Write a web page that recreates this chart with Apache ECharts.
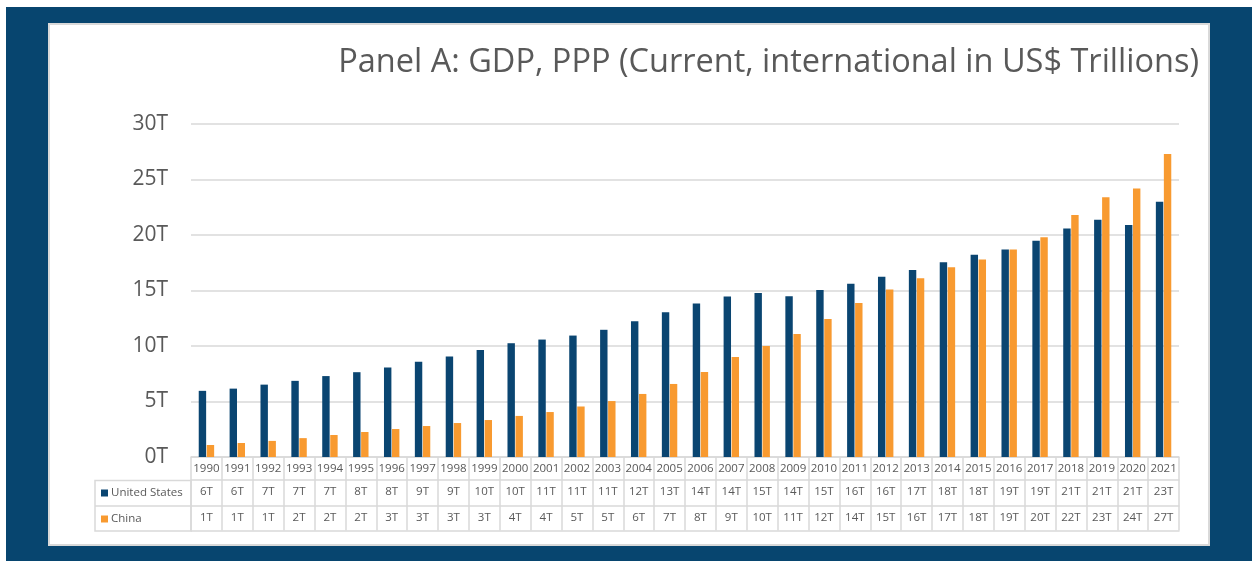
<!DOCTYPE html>
<html>
<head>
  <meta charset="utf-8">
  <script src="https://cdn.jsdelivr.net/npm/echarts@6/dist/echarts.min.js"></script>
  <style>
    body { margin: 0; background: #fff; }
  </style>
</head>
<body>
<div id="main" style="width:1252px;height:561px;"></div>
<script type="text/javascript">
var years = ['1990','1991','1992','1993','1994','1995','1996','1997','1998','1999',
  '2000','2001','2002','2003','2004','2005','2006','2007','2008','2009',
  '2010','2011','2012','2013','2014','2015','2016','2017','2018','2019','2020','2021'];

// GDP, PPP in trillions
var usGdp = [5.96, 6.16, 6.52, 6.86, 7.29, 7.64, 8.07, 8.58, 9.06, 9.63,
  10.25, 10.58, 10.94, 11.46, 12.22, 13.04, 13.82, 14.45, 14.77, 14.48,
  15.05, 15.6, 16.25, 16.84, 17.55, 18.21, 18.7, 19.48, 20.58, 21.38, 20.89, 23.0];
var chinaGdp = [1.08, 1.26, 1.45, 1.7, 1.98, 2.25, 2.52, 2.79, 3.06, 3.33,
  3.7, 4.05, 4.55, 5.04, 5.68, 6.58, 7.66, 9.0, 10.0, 11.08,
  12.43, 13.87, 15.1, 16.1, 17.1, 17.8, 18.7, 19.8, 21.8, 23.4, 24.2, 27.3];

// table rows as printed under the chart
var usLabels = ['6T','6T','7T','7T','7T','8T','8T','9T','9T','10T',
  '10T','11T','11T','11T','12T','13T','14T','14T','15T','14T',
  '15T','16T','16T','17T','18T','18T','19T','19T','21T','21T','21T','23T'];
var chinaLabels = ['1T','1T','1T','2T','2T','2T','3T','3T','3T','3T',
  '4T','4T','5T','5T','6T','7T','8T','9T','10T','11T',
  '12T','14T','15T','16T','17T','18T','19T','20T','22T','23T','24T','27T'];

var textColor = '#595959';
var lineColor = '#d9d9d9';
var navy = '#0a4571';
var orange = '#f89a30';
var font = 'Open Sans';

var myChart = echarts.init(document.getElementById('main'));

function tableAxis(labels, offset, tickLen, showLabel) {
  return {
    type: 'category',
    data: labels,
    position: 'bottom',
    offset: offset,
    gridIndex: 0,
    axisLine: { show: true, lineStyle: { color: lineColor, width: 1.5 } },
    axisTick: { show: tickLen > 0, interval: 0, length: tickLen, lineStyle: { color: lineColor, width: 1.5 } },
    axisLabel: { show: showLabel, interval: 0, margin: 6, fontSize: 11.5, color: textColor, fontFamily: font },
    splitLine: { show: false }
  };
}

myChart.setOption({
  backgroundColor: '#ffffff',
  animation: false,
  graphic: [
    { type: 'rect', z: -10, shape: { x: 6, y: 7, width: 1246, height: 554 }, style: { fill: '#07456f' } },
    { type: 'rect', z: -9, shape: { x: 49, y: 24, width: 1160, height: 521 }, style: { fill: '#ffffff', stroke: lineColor, lineWidth: 2 } },
    { type: 'rect', z: 5, shape: { x: 95, y: 480.5, width: 96, height: 50.5 }, style: { fill: 'none', stroke: lineColor, lineWidth: 1.5 } },
    { type: 'line', z: 5, shape: { x1: 95, y1: 506, x2: 191, y2: 506 }, style: { stroke: lineColor, lineWidth: 1.5 } }
  ],
  title: {
    text: 'Panel A: GDP, PPP (Current, international in US$ Trillions)',
    right: 53,
    top: 46,
    padding: 0,
    textStyle: { fontFamily: font, fontSize: 32.5, fontWeight: 'normal', color: textColor }
  },
  legend: {
    orient: 'vertical',
    left: 96,
    top: 481,
    itemWidth: 7,
    itemHeight: 7,
    itemGap: 12,
    icon: 'rect',
    textStyle: { fontFamily: font, fontSize: 11.5, color: textColor, lineHeight: 14, padding: [0, 0, 0, -2] },
    data: ['United States', 'China']
  },
  grid: { left: 191, right: 73, top: 124, bottom: 104, containLabel: false },
  yAxis: {
    type: 'value',
    min: 0,
    max: 30,
    interval: 5,
    axisLine: { show: false },
    axisTick: { show: false },
    axisLabel: { formatter: '{value}T', fontSize: 21, color: textColor, fontFamily: font, margin: 23 },
    splitLine: { lineStyle: { color: lineColor, width: 1.5 } }
  },
  xAxis: [
    tableAxis(years, 0, 23, true),
    tableAxis(usLabels, 23, 26, true),
    tableAxis(chinaLabels, 48.5, 25, true),
    tableAxis(years, 73.5, 0, false)
  ],
  series: [
    {
      name: 'United States',
      type: 'bar',
      xAxisIndex: 0,
      data: usGdp,
      barWidth: '24%',
      barGap: '8%',
      itemStyle: { color: navy }
    },
    {
      name: 'China',
      type: 'bar',
      xAxisIndex: 0,
      data: chinaGdp,
      barWidth: '24%',
      itemStyle: { color: orange }
    }
  ]
});
</script>
</body>
</html>
